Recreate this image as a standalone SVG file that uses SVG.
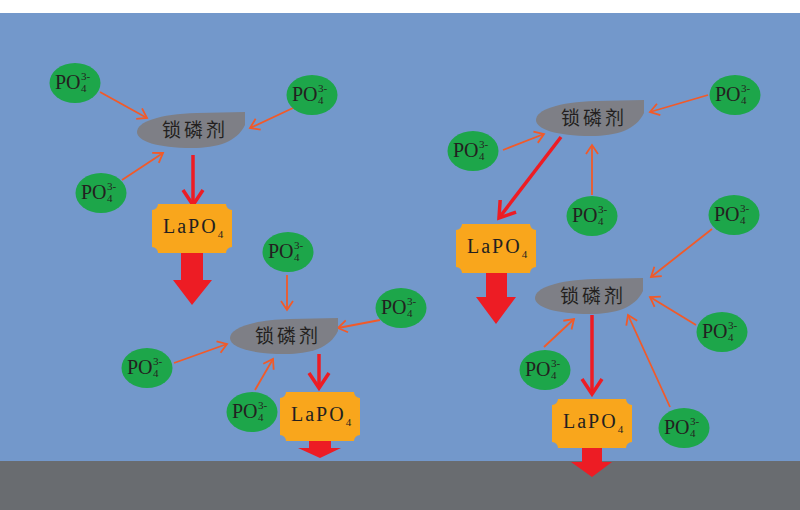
<svg xmlns="http://www.w3.org/2000/svg" width="800" height="510" viewBox="0 0 800 510">
<style>
.po-bg{fill:#1DA64A}
.po{font-family:"Liberation Serif",serif;font-size:20px;fill:#231F20}
.sm{font-size:11px}
.lock-bg{fill:#7E7F86}
.lock{font-family:"Noto Sans CJK SC",sans-serif;font-size:19px;fill:#231F20;letter-spacing:3px;text-anchor:middle}
.box{fill:#F9A61C}
.la{font-family:"Liberation Serif",serif;font-size:20px;fill:#231F20;letter-spacing:2px}
.thin{stroke:#F15A29;stroke-width:1.8;fill:none}
.thick{stroke:#ED1C24;stroke-width:3.5;fill:none}
.big{fill:#ED1C24}
</style>
<defs>
<path id="lockshape" d="M108,0 L108,13 C100,30 80,36 55,36 C20,36 0,29 0,20 C0,10 22,2 60,1 Z"/>
<path id="boxshape" d="M6,0 H74 A6,6 0 0 0 80,6 V43 A6,6 0 0 0 74,49 H6 A6,6 0 0 0 0,43 V6 A6,6 0 0 0 6,0 Z"/>
<marker id="ah-o" markerUnits="userSpaceOnUse" markerWidth="12" markerHeight="14" refX="9" refY="6" orient="auto" overflow="visible">
<path d="M0,0 L9,6 L0,12" fill="none" stroke="#F15A29" stroke-width="1.8"/>
</marker>
<marker id="ah-r" markerUnits="userSpaceOnUse" markerWidth="20" markerHeight="24" refX="15" refY="10" orient="auto" overflow="visible">
<path d="M0,0 L15,10 L0,20" fill="none" stroke="#ED1C24" stroke-width="3.5"/>
</marker>
</defs>
<rect x="0" y="0" width="800" height="510" fill="#FFFFFF"/>
<rect x="0" y="13" width="800" height="448" fill="#7398CB"/>
<rect x="0" y="461" width="800" height="49" fill="#696C70"/>

<g id="connectors">
<line class="thin" x1="100" y1="92" x2="147" y2="118" marker-end="url(#ah-o)"/>
<line class="thin" x1="293" y1="108" x2="250" y2="128" marker-end="url(#ah-o)"/>
<line class="thin" x1="122" y1="180" x2="163" y2="153" marker-end="url(#ah-o)"/>
<line class="thin" x1="287" y1="275" x2="287" y2="310" marker-end="url(#ah-o)"/>
<line class="thin" x1="380" y1="320" x2="338" y2="328" marker-end="url(#ah-o)"/>
<line class="thin" x1="174" y1="363" x2="227" y2="344" marker-end="url(#ah-o)"/>
<line class="thin" x1="255" y1="390" x2="273" y2="359" marker-end="url(#ah-o)"/>
<line class="thin" x1="708" y1="95" x2="650" y2="112" marker-end="url(#ah-o)"/>
<line class="thin" x1="503" y1="150" x2="544" y2="134" marker-end="url(#ah-o)"/>
<line class="thin" x1="592" y1="195" x2="592" y2="145" marker-end="url(#ah-o)"/>
<line class="thin" x1="712" y1="229" x2="651" y2="277" marker-end="url(#ah-o)"/>
<line class="thin" x1="696" y1="325" x2="650" y2="297" marker-end="url(#ah-o)"/>
<line class="thin" x1="544" y1="347" x2="574" y2="319" marker-end="url(#ah-o)"/>
<line class="thin" x1="670" y1="407" x2="628" y2="315" marker-end="url(#ah-o)"/>
<line class="thick" x1="193" y1="155" x2="193" y2="205" marker-end="url(#ah-r)"/>
<line class="thick" x1="319" y1="354" x2="319" y2="388" marker-end="url(#ah-r)"/>
<line class="thick" x1="561" y1="137" x2="499" y2="218" marker-end="url(#ah-r)"/>
<line class="thick" x1="592" y1="315" x2="592" y2="394" marker-end="url(#ah-r)"/>
<polygon class="big" points="181,253 203,253 203,280 212,280 192,305 173,280 181,280"/>
<polygon class="big" points="309,441 331,441 331,448 341,448 320,458 298,448 309,448"/>
<polygon class="big" points="486,272 507,272 507,297 516,297 496,324 476,297 486,297"/>
<polygon class="big" points="582,448 602,448 602,462 612,462 592,477 571,462 582,462"/>
</g>

<g id="locker1"><use href="#lockshape" class="lock-bg" x="137" y="112"/><text class="lock" x="195" y="137">锁磷剂</text></g>
<g id="locker2"><use href="#lockshape" class="lock-bg" x="230" y="318"/><text class="lock" x="288" y="343">锁磷剂</text></g>
<g id="locker3"><use href="#lockshape" class="lock-bg" x="536" y="100"/><text class="lock" x="594" y="125">锁磷剂</text></g>
<g id="locker4"><use href="#lockshape" class="lock-bg" x="535" y="278"/><text class="lock" x="593" y="303">锁磷剂</text></g>

<g id="lapo1"><use href="#boxshape" class="box" x="152" y="204"/><text class="la" x="163" y="233">LaPO<tspan class="sm" dy="5">4</tspan></text></g>
<g id="lapo2"><use href="#boxshape" class="box" x="280" y="392"/><text class="la" x="291" y="421">LaPO<tspan class="sm" dy="5">4</tspan></text></g>
<g id="lapo3"><use href="#boxshape" class="box" x="456" y="224"/><text class="la" x="467" y="253">LaPO<tspan class="sm" dy="5">4</tspan></text></g>
<g id="lapo4"><use href="#boxshape" class="box" x="552" y="399"/><text class="la" x="563" y="428">LaPO<tspan class="sm" dy="5">4</tspan></text></g>

<g id="po1"><ellipse class="po-bg" cx="75" cy="83" rx="25.5" ry="20"/><text class="po" x="55" y="89">PO<tspan class="sm" x="81" y="80">3-</tspan><tspan class="sm" x="81" y="92">4</tspan></text></g>
<g id="po2"><ellipse class="po-bg" cx="312" cy="95" rx="25.5" ry="20"/><text class="po" x="292" y="101">PO<tspan class="sm" x="318" y="92">3-</tspan><tspan class="sm" x="318" y="104">4</tspan></text></g>
<g id="po3"><ellipse class="po-bg" cx="101" cy="193" rx="25.5" ry="20"/><text class="po" x="81" y="199">PO<tspan class="sm" x="107" y="190">3-</tspan><tspan class="sm" x="107" y="202">4</tspan></text></g>
<g id="po4"><ellipse class="po-bg" cx="288" cy="252" rx="25.5" ry="20"/><text class="po" x="268" y="258">PO<tspan class="sm" x="294" y="249">3-</tspan><tspan class="sm" x="294" y="261">4</tspan></text></g>
<g id="po5"><ellipse class="po-bg" cx="401" cy="308" rx="25.5" ry="20"/><text class="po" x="381" y="314">PO<tspan class="sm" x="407" y="305">3-</tspan><tspan class="sm" x="407" y="317">4</tspan></text></g>
<g id="po6"><ellipse class="po-bg" cx="147" cy="368" rx="25.5" ry="20"/><text class="po" x="127" y="374">PO<tspan class="sm" x="153" y="365">3-</tspan><tspan class="sm" x="153" y="377">4</tspan></text></g>
<g id="po7"><ellipse class="po-bg" cx="252" cy="412" rx="25.5" ry="20"/><text class="po" x="232" y="418">PO<tspan class="sm" x="258" y="409">3-</tspan><tspan class="sm" x="258" y="421">4</tspan></text></g>
<g id="po8"><ellipse class="po-bg" cx="735" cy="95" rx="25.5" ry="20"/><text class="po" x="715" y="101">PO<tspan class="sm" x="741" y="92">3-</tspan><tspan class="sm" x="741" y="104">4</tspan></text></g>
<g id="po9"><ellipse class="po-bg" cx="473" cy="151" rx="25.5" ry="20"/><text class="po" x="453" y="157">PO<tspan class="sm" x="479" y="148">3-</tspan><tspan class="sm" x="479" y="160">4</tspan></text></g>
<g id="po10"><ellipse class="po-bg" cx="592" cy="216" rx="25.5" ry="20"/><text class="po" x="572" y="222">PO<tspan class="sm" x="598" y="213">3-</tspan><tspan class="sm" x="598" y="225">4</tspan></text></g>
<g id="po11"><ellipse class="po-bg" cx="734" cy="215" rx="25.5" ry="20"/><text class="po" x="714" y="221">PO<tspan class="sm" x="740" y="212">3-</tspan><tspan class="sm" x="740" y="224">4</tspan></text></g>
<g id="po12"><ellipse class="po-bg" cx="722" cy="332" rx="25.5" ry="20"/><text class="po" x="702" y="338">PO<tspan class="sm" x="728" y="329">3-</tspan><tspan class="sm" x="728" y="341">4</tspan></text></g>
<g id="po13"><ellipse class="po-bg" cx="545" cy="370" rx="25.5" ry="20"/><text class="po" x="525" y="376">PO<tspan class="sm" x="551" y="367">3-</tspan><tspan class="sm" x="551" y="379">4</tspan></text></g>
<g id="po14"><ellipse class="po-bg" cx="684" cy="428" rx="25.5" ry="20"/><text class="po" x="664" y="434">PO<tspan class="sm" x="690" y="425">3-</tspan><tspan class="sm" x="690" y="437">4</tspan></text></g>
</svg>
